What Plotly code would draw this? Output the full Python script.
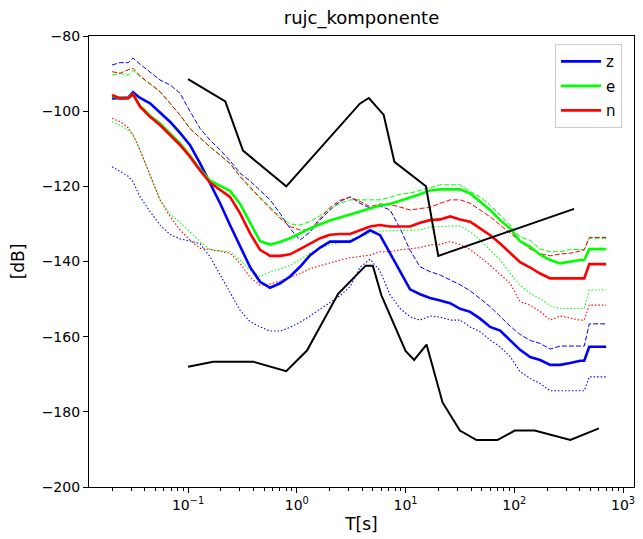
import plotly.graph_objects as go

# Periods (s) of the component curves
T = [0.0200, 0.0237, 0.0281, 0.0312, 0.0362, 0.0447, 0.0552, 0.0682, 0.0843, 0.104,
     0.129, 0.159, 0.197, 0.243, 0.301, 0.372, 0.459, 0.568, 0.702, 0.867,
     1.07, 1.32, 1.64, 2.02, 2.50, 3.09, 3.82, 4.72, 5.83, 7.21,
     8.91, 11.0, 13.6, 16.8, 20.8, 25.7, 31.8, 39.3, 48.5, 60.0,
     74.1, 91.6, 113, 140, 173, 214, 264, 327, 404, 440,
     489, 617, 700]

z_med = [-96.6, -96.6, -96.4, -95.0, -96.5, -97.9, -100.3, -102.8, -105.8, -109.0,
         -113.9, -119.0, -124.5, -130.3, -136.1, -141.5, -145.4, -147.0, -145.8, -144.0,
         -141.4, -138.4, -136.3, -134.7, -134.7, -134.7, -133.3, -131.7, -133.0, -137.8,
         -142.3, -147.4, -148.7, -149.7, -150.4, -151.1, -152.6, -153.4, -155.2, -157.4,
         -158.4, -161.0, -163.5, -165.4, -166.2, -167.5, -167.5, -167.0, -166.4, -166.4,
         -162.7, -162.7, -162.7]
z_hi = [-87.7, -87.1, -87.1, -85.9, -87.5, -89.5, -91.7, -93.0, -95.2, -100.0,
        -104.6, -107.7, -110.3, -113.2, -116.5, -118.6, -121.0, -123.6, -127.2, -131.2,
        -134.3, -132.2, -128.9, -126.3, -124.0, -122.8, -124.5, -125.8, -125.2, -126.3,
        -131.2, -137.0, -141.4, -142.7, -143.6, -144.9, -146.2, -147.8, -150.0, -152.0,
        -154.6, -157.2, -159.4, -161.0, -161.8, -163.3, -162.5, -162.5, -162.5, -162.5,
        -156.6, -156.6, -156.6]
z_lo = [-114.8, -116.1, -117.3, -118.8, -122.8, -126.7, -130.3, -132.8, -134.0, -134.5,
        -135.3, -138.7, -143.6, -148.5, -153.0, -156.0, -157.4, -158.5, -158.5, -157.5,
        -156.2, -154.5, -152.6, -150.9, -149.1, -146.7, -141.5, -139.4, -142.5, -148.9,
        -152.5, -154.7, -155.6, -154.5, -154.8, -155.6, -155.6, -157.4, -158.7, -160.9,
        -162.7, -165.3, -169.3, -171.1, -172.5, -174.4, -174.4, -174.4, -174.4, -174.4,
        -170.7, -170.7, -170.7]

e_med = [-96.0, -96.5, -96.5, -95.5, -98.6, -101.2, -103.3, -106.0, -108.6, -111.8,
         -115.5, -118.5, -119.8, -121.2, -124.7, -129.6, -134.6, -135.5, -134.8, -133.8,
         -132.5, -131.2, -130.1, -129.1, -128.3, -127.5, -126.6, -125.7, -125.1, -124.7,
         -123.9, -123.1, -122.1, -121.1, -120.8, -120.8, -120.8, -121.9, -124.1, -126.3,
         -129.0, -131.2, -134.6, -136.1, -138.2, -139.6, -140.5, -140.0, -139.6, -139.6,
         -136.7, -136.7, -136.7]
e_hi = [-90.4, -90.0, -90.4, -89.2, -90.8, -92.8, -94.8, -97.9, -101.0, -104.6,
        -107.2, -109.5, -111.7, -113.9, -117.4, -120.6, -122.8, -125.4, -128.1, -130.0,
        -130.3, -129.4, -127.8, -126.0, -124.5, -123.6, -123.6, -123.6, -123.6, -122.9,
        -122.1, -121.8, -121.0, -120.2, -119.6, -119.6, -119.6, -121.4, -122.8, -125.0,
        -127.6, -130.3, -133.4, -134.4, -136.7, -137.4, -137.4, -136.8, -136.8, -136.8,
        -133.8, -133.8, -133.8]
e_lo = [-102.8, -103.7, -105.0, -106.3, -110.4, -116.8, -123.6, -127.4, -129.6, -132.1,
        -134.7, -136.8, -137.1, -137.4, -139.6, -142.3, -144.0, -142.7, -142.0, -141.0,
        -139.5, -137.8, -136.5, -135.5, -135.0, -134.3, -133.4, -132.5, -131.9, -131.8,
        -131.8, -131.8, -131.6, -130.8, -130.6, -130.6, -130.6, -132.1, -134.3, -136.9,
        -139.6, -143.1, -146.3, -148.5, -149.9, -151.8, -152.5, -152.5, -152.5, -152.5,
        -147.6, -147.6, -147.6]

n_med = [-95.7, -96.6, -96.6, -95.5, -98.8, -101.5, -103.7, -106.4, -109.0, -112.1,
         -115.8, -119.0, -120.8, -122.8, -127.2, -132.5, -136.9, -138.5, -138.5, -138.1,
         -136.7, -135.2, -133.8, -132.9, -132.7, -132.7, -131.6, -130.7, -130.3, -130.7,
         -130.7, -130.7, -129.7, -129.0, -128.8, -128.0, -128.8, -129.4, -131.2, -133.0,
         -135.2, -137.6, -140.2, -141.6, -143.2, -144.5, -144.5, -144.5, -144.5, -144.5,
         -140.7, -140.7, -140.7]
n_hi = [-89.5, -89.9, -89.0, -88.6, -90.6, -92.8, -94.8, -97.9, -101.0, -104.6,
        -107.2, -109.5, -111.7, -113.9, -117.4, -120.1, -123.2, -125.9, -128.5, -130.7,
        -131.6, -131.6, -128.6, -125.6, -123.7, -122.9, -124.0, -125.4, -124.7, -124.9,
        -125.5, -126.3, -125.9, -125.6, -124.5, -123.6, -123.6, -124.5, -126.3, -128.1,
        -130.3, -132.5, -134.7, -136.7, -137.9, -138.5, -138.0, -137.8, -137.2, -136.9,
        -133.6, -133.6, -133.6]
n_lo = [-101.9, -102.8, -104.4, -106.3, -110.4, -116.8, -123.6, -128.0, -131.6, -134.3,
        -136.5, -136.8, -137.4, -137.8, -140.5, -144.2, -146.3, -146.0, -145.2, -144.3,
        -143.2, -141.9, -141.1, -140.2, -139.6, -139.0, -138.6, -138.3, -137.4, -137.4,
        -136.9, -136.5, -136.3, -135.6, -135.4, -134.7, -135.5, -136.8, -138.9, -141.0,
        -143.4, -145.8, -150.7, -151.6, -153.3, -155.6, -154.5, -155.1, -155.6, -155.6,
        -151.6, -151.6, -151.6]

# Peterson noise models
nhnm_T = [0.10, 0.22, 0.32, 0.80, 3.80, 4.60, 6.30, 7.90, 15.40, 20.00, 354.80]
nhnm_db = [-91.5, -97.4, -110.5, -120.0, -98.0, -96.5, -101.0, -113.5, -120.0, -138.5, -126.0]
nlnm_T = [0.10, 0.17, 0.40, 0.80, 1.24, 2.40, 4.30, 5.00, 6.00, 10.00,
          12.00, 15.60, 21.90, 31.60, 45.00, 70.00, 101.00, 154.00, 328.00, 600.00]
nlnm_db = [-168.0, -166.7, -166.7, -169.2, -163.7, -148.6, -141.1, -141.1, -149.0, -163.8,
           -166.2, -162.1, -177.5, -185.0, -187.5, -187.5, -185.0, -185.0, -187.5, -184.4]

components = [
    ("z", "#0000ff", z_med, z_hi, z_lo),
    ("e", "#00ff00", e_med, e_hi, e_lo),
    ("n", "#ff0000", n_med, n_hi, n_lo),
]

fig = go.Figure()
for name, col, med, hi, lo in components:
    fig.add_trace(go.Scatter(x=T, y=hi, mode="lines", showlegend=False,
                             line=dict(color=col, width=1, dash="5px,2px")))
    fig.add_trace(go.Scatter(x=T, y=lo, mode="lines", showlegend=False,
                             line=dict(color=col, width=1.1, dash="1.5px,2px")))
for name, col, med, hi, lo in components:
    fig.add_trace(go.Scatter(x=T, y=med, mode="lines", name=name, legendgroup=name,
                             line=dict(color=col, width=2.6)))

fig.add_trace(go.Scatter(x=nhnm_T, y=nhnm_db, mode="lines", showlegend=False,
                         line=dict(color="black", width=2)))
fig.add_trace(go.Scatter(x=nlnm_T, y=nlnm_db, mode="lines", showlegend=False,
                         line=dict(color="black", width=2)))

# The page body adds an 8px offset, so the figure is sized 8px smaller
W, H = 635, 531
font = "DejaVu Sans, sans-serif"
fig.update_layout(
    width=W, height=H,
    margin=dict(l=81, r=9, t=28, b=52, autoexpand=False),
    paper_bgcolor="white", plot_bgcolor="white",
    font=dict(family=font, size=14, color="black"),
    title=dict(text="rujc_komponente", x=0.5, xref="paper", xanchor="center",
               y=1 - 10 / H, yanchor="middle", font=dict(size=18)),
    showlegend=True,
    legend=dict(x=0.978, y=0.982, xanchor="right", yanchor="top",
                bgcolor="rgba(255,255,255,0.85)", bordercolor="#cccccc", borderwidth=1,
                font=dict(size=15), tracegroupgap=2, itemwidth=40),
)
fig.update_xaxes(
    type="log", range=[-1.911, 3.101], automargin=False,
    showline=True, mirror=True, linecolor="black", linewidth=1.2,
    showgrid=False, zeroline=False,
    ticks="outside", ticklen=5, tickwidth=1.1, tickcolor="black",
    tickvals=[0.1, 1, 10, 100, 1000],
    ticktext=["10<sup>−1</sup>", "10<sup>0</sup>", "10<sup>1</sup>", "10<sup>2</sup>", "10<sup>3</sup>"],
    minor=dict(ticks="outside", ticklen=3, tickwidth=0.8, tickcolor="black", showgrid=False,
               tickvals=[m * 10 ** k for k in range(-2, 3) for m in range(2, 10)]),
    title=dict(text="T[s]", standoff=6),
)
fig.update_yaxes(
    range=[-200, -80], automargin=False,
    showline=True, mirror=True, linecolor="black", linewidth=1.2,
    showgrid=False, zeroline=False,
    ticks="outside", ticklen=5, tickwidth=1.1, tickcolor="black",
    tickvals=[-200, -180, -160, -140, -120, -100, -80],
    ticktext=["−200", "−180", "−160", "−140", "−120", "−100", "−80"],
    title=dict(text="[dB]", standoff=16),
)

fig.write_html("out.html")
